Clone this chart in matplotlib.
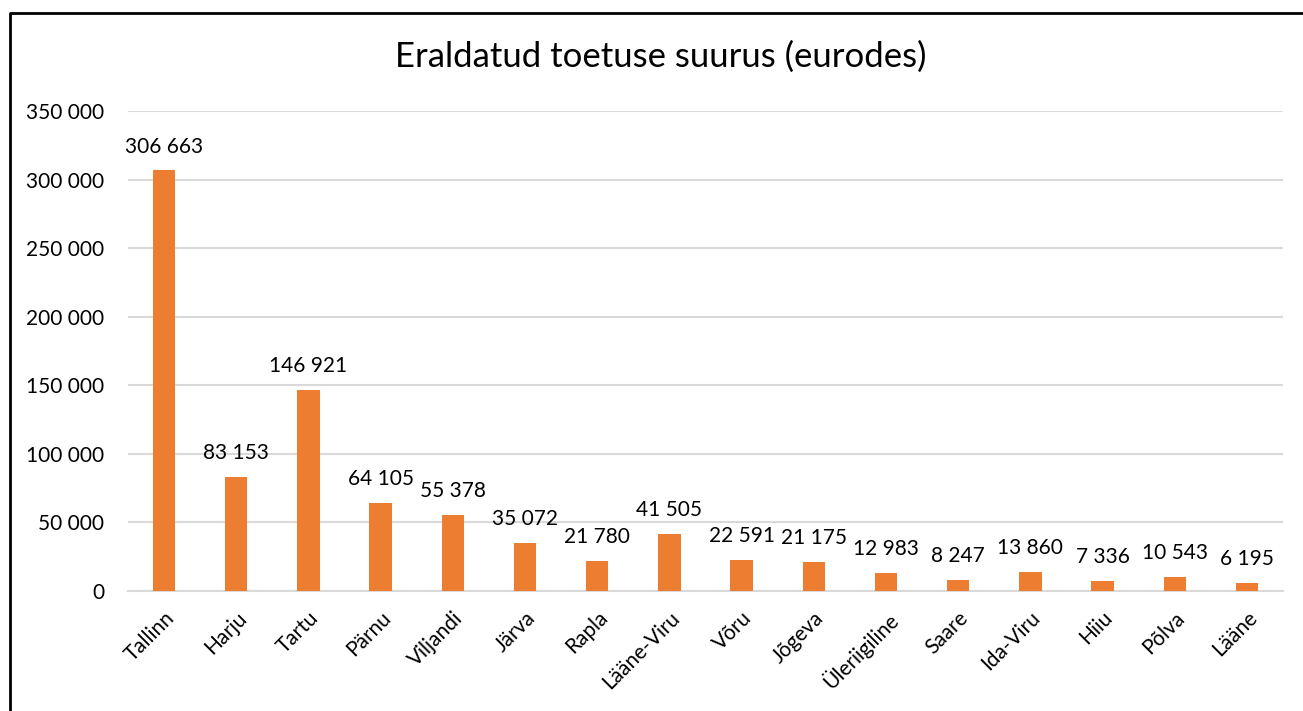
import matplotlib.pyplot as plt
from matplotlib.lines import Line2D
from matplotlib.ticker import FuncFormatter

regions = ["Tallinn", "Harju", "Tartu", "Pärnu", "Viljandi", "Järva", "Rapla",
           "Lääne-Viru", "Võru", "Jõgeva", "Üleriigiline", "Saare", "Ida-Viru",
           "Hiiu", "Põlva", "Lääne"]
amounts = [306663, 83153, 146921, 64105, 55378, 35072, 21780, 41505,
           22591, 21175, 12983, 8247, 13860, 7336, 10543, 6195]
yticks = [0, 50000, 100000, 150000, 200000, 250000, 300000, 350000]

plt.rcParams['font.family'] = ['Lato', 'DejaVu Sans']

W, H = 1303, 711
fig = plt.figure(figsize=(W / 100, H / 100), dpi=100)
ax = fig.add_axes([128 / W, 1 - 591 / H, (1283 - 128) / W, (591 - 111) / H])

def fmt(v):
    return f"{int(v):,}".replace(",", " ")

x = range(len(regions))
bars = ax.bar(x, amounts, width=0.31, color='#ED7D31', zorder=3)
for xi, v in zip(x, amounts):
    ax.annotate(fmt(v), (xi, v), xytext=(0, 10), textcoords='offset points',
                ha='center', va='bottom', fontsize=15, color='#000000')

ax.set_xlim(-0.5, len(regions) - 0.5)
ax.set_ylim(0, 350000)
ax.set_yticks(yticks)
ax.yaxis.set_major_formatter(FuncFormatter(lambda v, p: fmt(v)))
ax.grid(axis='y', color='#D9D9D9', linewidth=1.5, zorder=0)
ax.set_xticks(list(x))
ax.set_xticklabels(regions, rotation=45, ha='right', rotation_mode='anchor')
ax.tick_params(axis='both', length=0, labelsize=15, colors='#000000')
ax.tick_params(axis='y', pad=17)
ax.tick_params(axis='x', pad=12)
for s in ['top', 'right', 'left']:
    ax.spines[s].set_visible(False)
ax.spines['bottom'].set_color('#D9D9D9')
ax.spines['bottom'].set_linewidth(1.5)

fig.text(661 / W, 1 - 57 / H, "Eraldatud toetuse suurus (eurodes)", ha='center',
         va='center', fontsize=25)

# outer frame (left and top edges only visible in reference)
fig.add_artist(Line2D([10 / W, 10 / W, 1.0], [0.0, 1 - 13 / H, 1 - 13 / H],
                      color='black', linewidth=2, transform=fig.transFigure))

fig.savefig("out.png", dpi=100)
